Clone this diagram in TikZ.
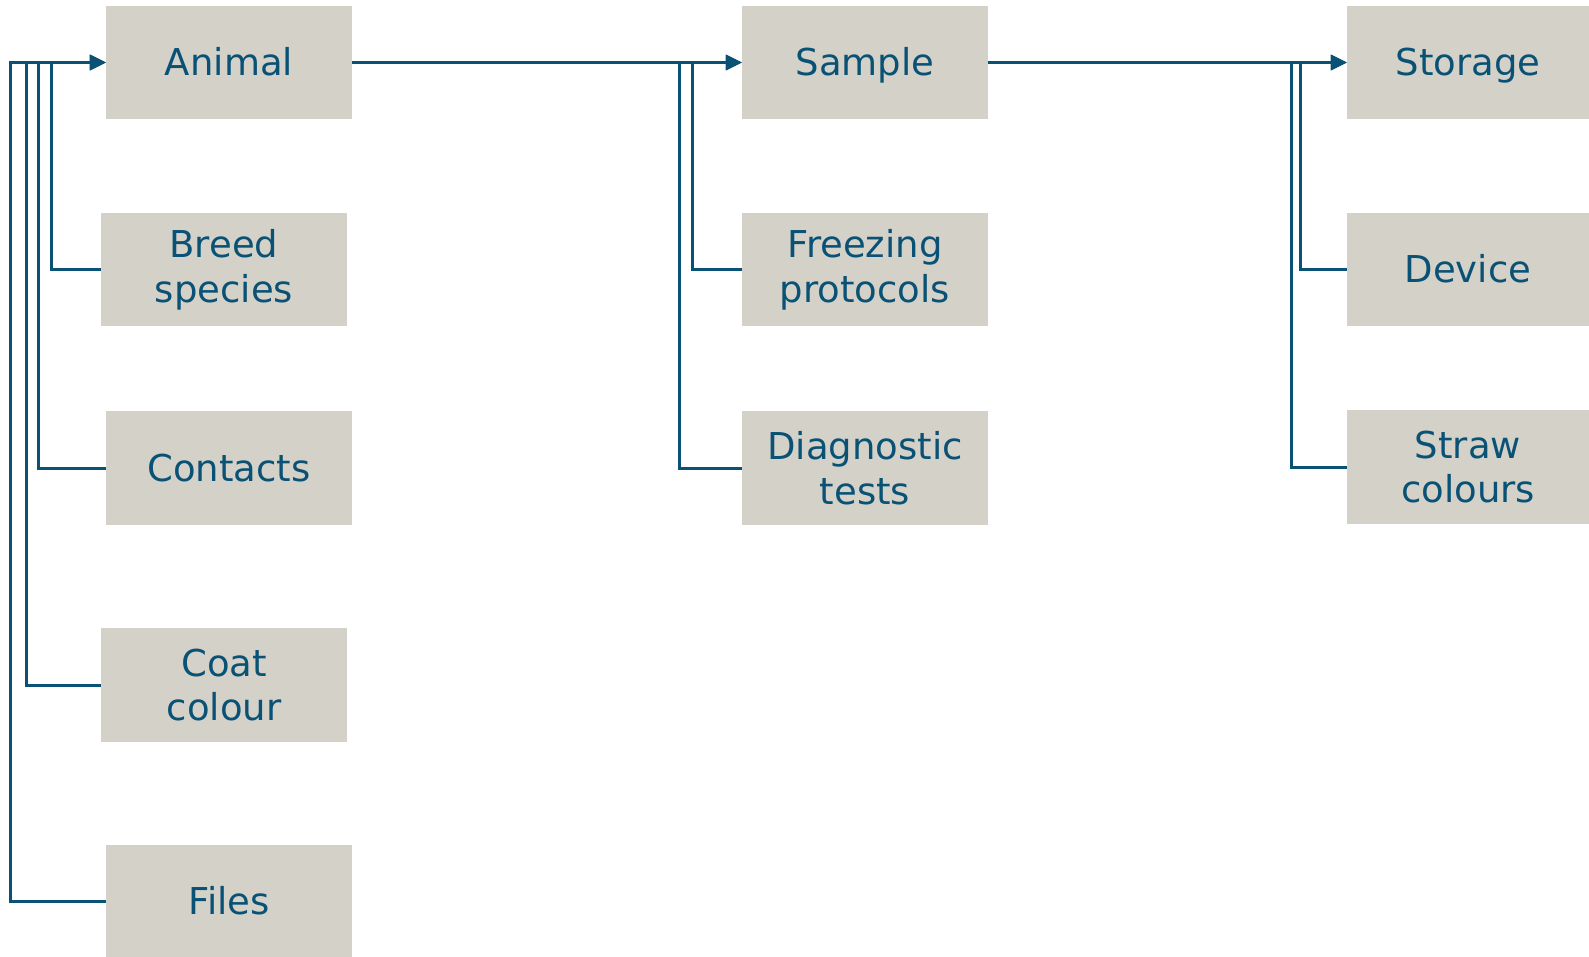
\documentclass[tikz,border=0pt]{standalone}
\usepackage{fontspec}
\setmainfont{DejaVu Sans}
\usetikzlibrary{arrows.meta}
\definecolor{teal}{RGB}{10,82,117}
\definecolor{boxfill}{RGB}{212,209,201}
\tikzset{
  box/.style={rectangle, fill=boxfill, text=teal, minimum width=246pt, minimum height=113pt,
    inner sep=0pt, align=center, font=\fontsize{37}{44.6}\selectfont},
  single/.style={text height=27pt, text depth=0pt},
  conn/.style={draw=teal, line width=3pt, -{Triangle[length=16pt,width=15pt]}},
}
\begin{document}
\begin{tikzpicture}[x=1pt,y=-1pt]
\useasboundingbox (0,0) rectangle (1589,957);
\node[box,single] (animal) at (229,62.5) {Animal};
\node[box] (breed) at (224,269.5) {Breed\\species};
\node[box,single,minimum height=114pt] (contacts) at (229,468) {Contacts};
\node[box,minimum height=114pt] (coat) at (224,685) {Coat\\colour};
\node[box,single,minimum height=112pt] (files) at (229,901) {Files};
\node[box,single] (sample) at (865,62.5) {Sample};
\node[box] (freezing) at (865,269.5) {Freezing\\protocols};
\node[box,minimum height=114pt] (diag) at (865,468) {Diagnostic\\tests};
\node[box,single,minimum width=242pt] (storage) at (1468,62.5) {Storage};
\node[box,single,minimum width=242pt] (device) at (1468,269.5) {Device};
\node[box,minimum width=242pt,minimum height=114pt] (straw) at (1468,467) {Straw\\colours};
\draw[conn] (breed.west) -- ++(-49,0) |- (animal.west);
\draw[conn] (contacts.west) -- ++(-67,0) |- (animal.west);
\draw[conn] (coat.west) -- ++(-74,0) |- (animal.west);
\draw[conn] (files.west) -- ++(-95,0) |- (animal.west);
\draw[conn] (animal.east) -- (sample.west);
\draw[conn] (freezing.west) -- ++(-49,0) |- (sample.west);
\draw[conn] (diag.west) -- ++(-62,0) |- (sample.west);
\draw[conn] (sample.east) -- (storage.west);
\draw[conn] (device.west) -- ++(-46,0) |- (storage.west);
\draw[conn] (straw.west) -- ++(-55,0) |- (storage.west);
\end{tikzpicture}
\end{document}
